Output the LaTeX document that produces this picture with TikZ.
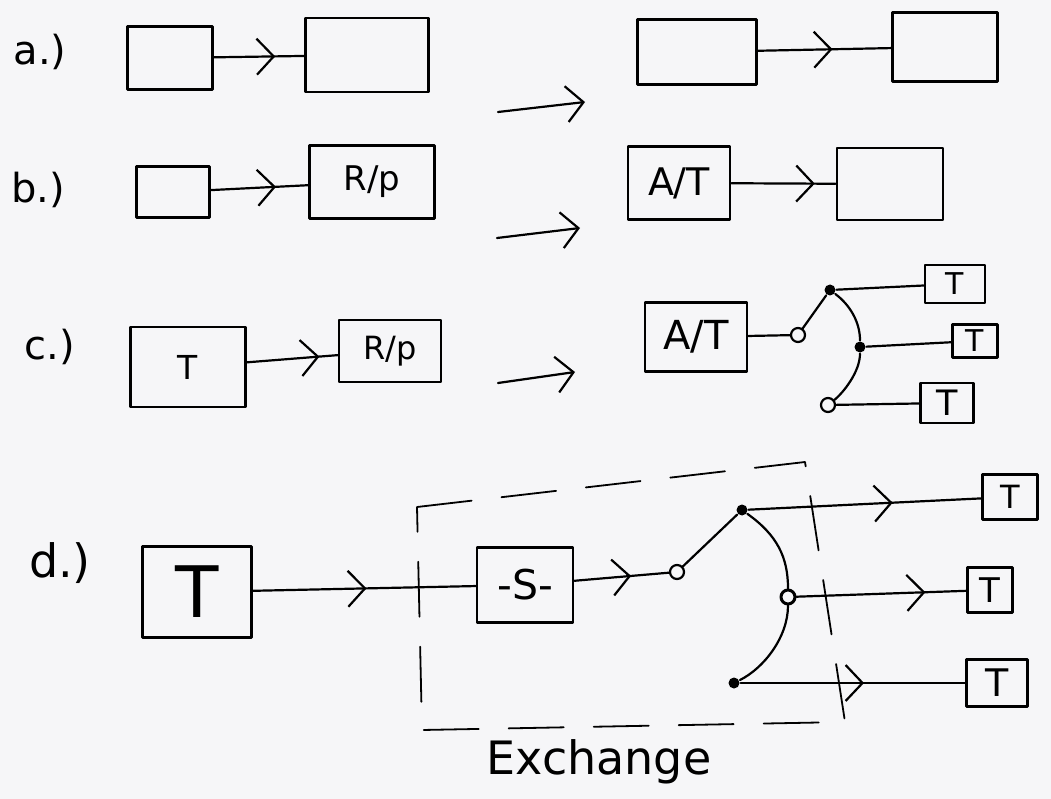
\documentclass[tikz,border=0pt]{standalone}
\usepackage{fontspec}
\setmainfont{DejaVu Sans}
\usetikzlibrary{arrows.meta,decorations.markings}
\definecolor{paper}{RGB}{246,246,248}

\tikzset{
	blk/.style={draw, line width=2.8pt, inner sep=0pt},
	txt/.style={font=\fontsize{#1}{#1}\selectfont},
	dot/.style={circle, fill, inner sep=0pt, minimum size=11pt},
	hole/.style={circle, draw, line width=2.2pt, inner sep=0pt, minimum size=14pt},
	flow/.style={postaction={decorate}, decoration={markings, mark=at position #1 with {\arrow{Straight Barb[length=17pt,width=36pt]}}}},
	flow/.default=0.6,
	tip/.style={-{Straight Barb[length=17pt,width=36pt]}},
	fence/.style={dash pattern=on 55pt off 30pt, line width=1.8pt}
}

\begin{document}
\begin{tikzpicture}[x=1pt, y=-1pt, line width=2.2pt, line cap=round, line join=round]
			\fill[paper] (0,0) rectangle (1051,799);
			\useasboundingbox (0,0) rectangle (1051,799);

			\node (la) at (40,52) [txt=40] {a.)};
			\node (lb) at (38,190) [txt=40] {b.)};
			\node (lc) at (50,347) [txt=40] {c.)};
			\node (ld) at (60,563) [txt=46] {d.)};

			\node (a1) at (170,58) [blk, minimum width=85, minimum height=63] {};
			\node (a2) at (367,55) [blk, minimum width=123, minimum height=74] {};
			\node (a3) at (697,52) [blk, minimum width=119, minimum height=65] {};
			\node (a4) at (945,47) [blk, minimum width=105, minimum height=69] {};
			\coordinate (ga1) at (498,112);
			\coordinate (ga2) at (585,102);

			\node (b1) at (173,192) [blk, minimum width=73, minimum height=51] {};
			\node (b2) at (372,182) [blk, minimum width=125, minimum height=73, txt=34] {R/p};
			\node (b3) at (679,183) [blk, minimum width=102, minimum height=73, txt=38] {A/T};
			\node (b4) at (890,184) [blk, minimum width=106, minimum height=72] {};
			\coordinate (gb1) at (497,238);
			\coordinate (gb2) at (580,228);

			\node (c1) at (188,367) [blk, minimum width=115, minimum height=80, txt=33] {T};
			\node (c2) at (390,351) [blk, minimum width=102, minimum height=62, txt=32] {R/p};
			\coordinate (gc1) at (498,383);
			\coordinate (gc2) at (575,372);
			\node (c3) at (696,337) [blk, minimum width=102, minimum height=69, txt=40] {A/T};
			\node (chole) at (798,335) [hole] {};
			\node (ctop) at (830,290) [dot] {};
			\node (cmid) at (860,347) [dot] {};
			\node (cbot) at (828,405) [hole] {};
			\node (ct1) at (955,284) [blk, minimum width=60, minimum height=38, txt=30] {T};
			\node (ct2) at (975,341) [blk, minimum width=45, minimum height=33, txt=30] {T};
			\node (ct3) at (947,403) [blk, minimum width=53, minimum height=40, txt=35] {T};

			\node (dt) at (197,592) [blk, minimum width=109, minimum height=91, txt=71] {T};
			\node (ds) at (525,585) [blk, minimum width=96, minimum height=75, txt=41] {-S-};
			\node (dhole) at (677,572) [hole] {};
			\node (dtop) at (742,510) [dot] {};
			\node (dmid) at (788,597) [hole, line width=3pt] {};
			\node (dbot) at (734,683) [dot] {};
			\node (dt1) at (1010,497) [blk, minimum width=55, minimum height=45, txt=32] {T};
			\node (dt2) at (990,590) [blk, minimum width=45, minimum height=45, txt=34] {T};
			\node (dt3) at (997,683) [blk, minimum width=61, minimum height=47, txt=38] {T};
			\node (ex) at (599,762) [txt=46] {Exchange};

			\draw[fence] (417,507) -- (805,462) -- (845,722) -- (422,730) -- cycle;

			\draw
			(a1) edge[flow=0.68] (a2)
			(a3) edge[flow=0.56] (a4)
			(ga1) edge[tip] (ga2)
			(b1) edge[flow=0.67] (b2)
			(b3) edge[flow=0.8] (b4)
			(gb1) edge[tip] (gb2)
			(c1) edge[flow=0.8] (c2)
			(gc1) edge[tip] (gc2)
			(c3) edge (chole)
			(chole) edge (ctop)
			(ctop) edge (ct1)
			(cmid) edge (ct2)
			(cbot) edge (ct3)
			(dt) edge[flow=0.51] (ds)
			(ds) edge[flow=0.6] (dhole)
			(dhole) edge (dtop)
			(dtop) edge[flow=0.62] (dt1)
			(dmid) edge[flow=0.76] (dt2)
			(dbot) edge[flow=0.55] (dt3)
			;

			\draw (ctop) .. controls +(20,15) and +(0,-25) .. (cmid) .. controls +(0,25) and +(15,-12) .. (cbot);
			\draw (dtop) .. controls +(35,25) and +(0,-40) .. (dmid) .. controls +(0,40) and +(30,-15) .. (dbot);
\end{tikzpicture}
\end{document}
